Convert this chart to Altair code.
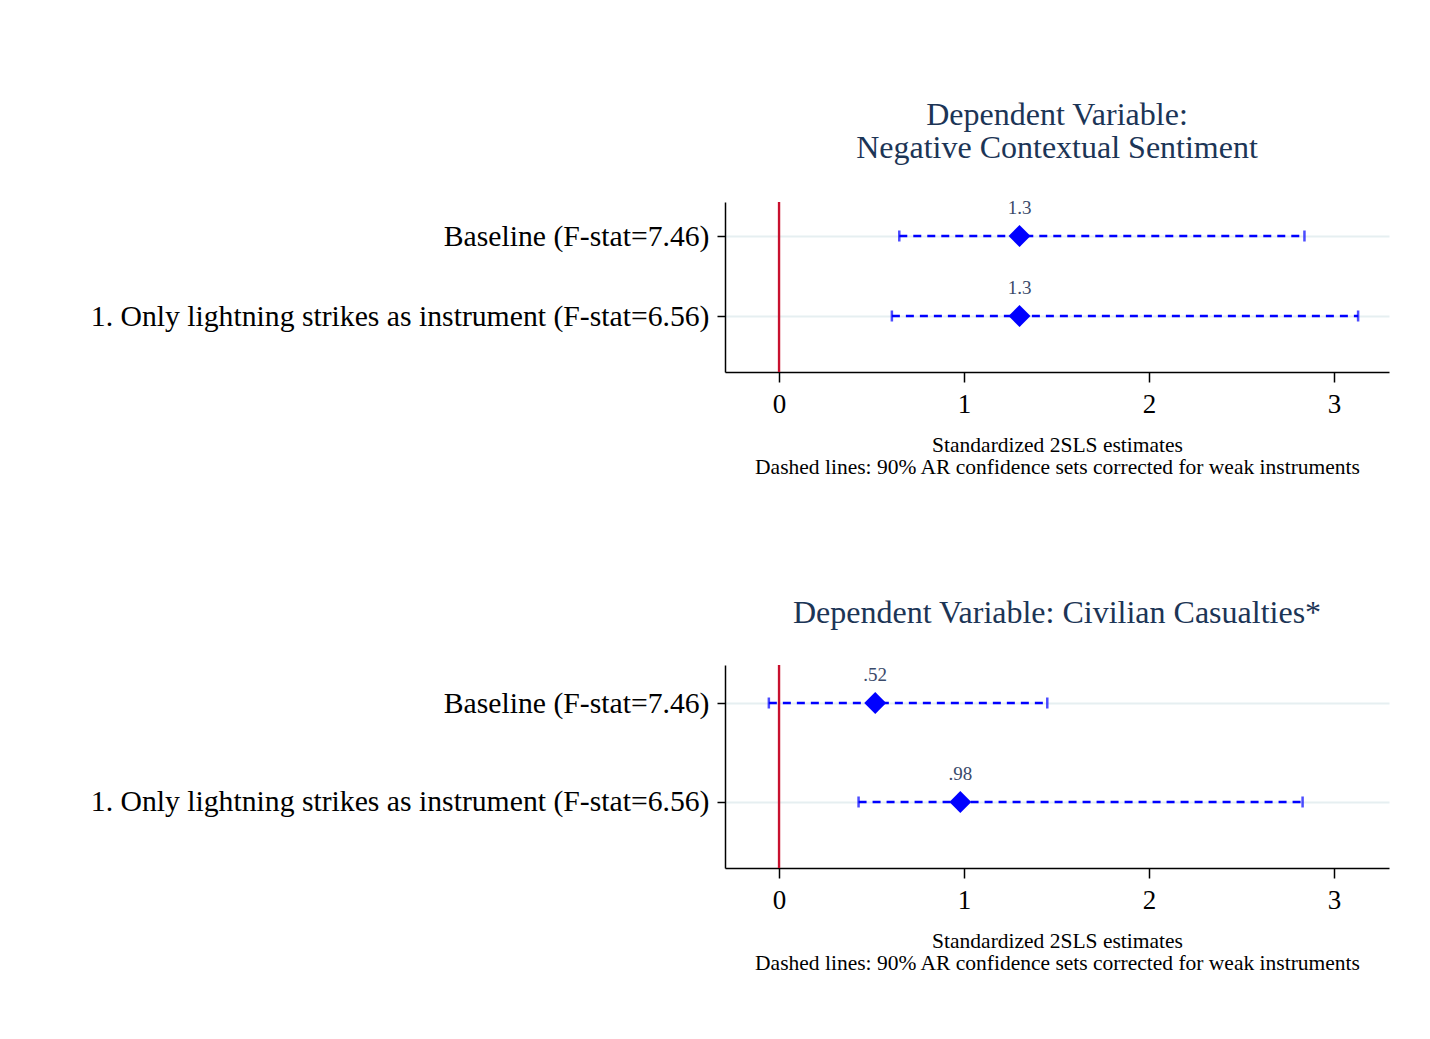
import altair as alt
import pandas as pd

# Specifications shown on the y axis (top to bottom)
specs = [
    "Baseline (F-stat=7.46)",
    "1. Only lightning strikes as instrument (F-stat=6.56)",
]

# Panel 1: negative contextual sentiment
sent_est = [1.3, 1.3]
sent_lo = [0.65, 0.61]
sent_hi = [2.84, 3.13]

# Panel 2: civilian casualties
cas_est = [0.52, 0.98]
cas_lo = [-0.055, 0.43]
cas_hi = [1.45, 2.83]

x_ticks = [0, 1, 2, 3]

SERIF = "Liberation Serif"
BLUE = "#0000ff"


def fmt(v):
    s = f"{v:g}"
    return s[1:] if s.startswith("0.") else s


def panel(title_lines, est, lo, hi, height, ydom):
    df = pd.DataFrame({
        "row": [1, 2],
        "spec": specs,
        "est": est,
        "lo": lo,
        "hi": hi,
        "lab": [fmt(v) for v in est],
    })
    label_expr = f"datum.value == 1 ? '{specs[0]}' : '{specs[1]}'"
    xscale = alt.Scale(domain=[-0.292, 3.297], nice=False, zero=False)
    yscale = alt.Scale(domain=ydom, reverse=True, nice=False, zero=False)
    xaxis = alt.Axis(
        values=x_ticks, format="d", grid=False, tickSize=10, tickWidth=1.5,
        tickColor="black", domainColor="black", domainWidth=1.5,
        labelFontSize=27, labelFont=SERIF, labelColor="black", labelPadding=9,
        labelFlush=False,
        title=["Standardized 2SLS estimates",
               "Dashed lines: 90% AR confidence sets corrected for weak instruments"],
        titleFont=SERIF, titleFontSize=21.5, titleFontWeight="normal",
        titleColor="black", titlePadding=17, titleLineHeight=22,
    )
    yaxis = alt.Axis(
        values=[1, 2], labelExpr=label_expr, grid=True, gridColor="#e6eff1",
        gridWidth=2, tickSize=8, tickWidth=1.5, tickColor="black",
        domainColor="black", domainWidth=1.5, labelFontSize=29.7, labelFont=SERIF,
        labelColor="black", labelPadding=8, title=None, labelLimit=1000,
    )
    base = alt.Chart(df)
    frame = base.mark_point(opacity=0).encode(
        x=alt.X("est:Q", scale=xscale, axis=xaxis),
        y=alt.Y("row:Q", scale=yscale, axis=yaxis),
    )
    zero = base.mark_rule(color="#c8102e", strokeWidth=2.2).encode(
        x=alt.datum(0)
    )
    ci = base.mark_rule(color=BLUE, strokeWidth=2.6, strokeDash=[8, 6]).encode(
        x="lo:Q", x2="hi:Q", y="row:Q"
    )
    cap_lo = base.mark_tick(color=BLUE, orient="vertical", size=11, thickness=2.5).encode(
        x="lo:Q", y="row:Q"
    )
    cap_hi = base.mark_tick(color=BLUE, orient="vertical", size=11, thickness=2.5).encode(
        x="hi:Q", y="row:Q"
    )
    pt = base.mark_point(shape="diamond", filled=True, color=BLUE, size=480, opacity=1).encode(
        x="est:Q", y="row:Q"
    )
    txt = base.mark_text(dy=-28, fontSize=19, font=SERIF, color="#3a4a6a").encode(
        x="est:Q", y="row:Q", text="lab:N"
    )
    return alt.layer(frame, zero, ci, cap_lo, cap_hi, pt, txt).properties(
        width=664,
        height=height,
        title=alt.TitleParams(
            title_lines, font=SERIF, fontSize=32, fontWeight="normal",
            color="#1c3556", frame="group", anchor="middle", offset=34,
            lineHeight=33,
        ),
    )


top = panel(["Dependent Variable:", "Negative Contextual Sentiment"],
            sent_est, sent_lo, sent_hi, 170, [0.575, 2.7])
bottom = panel("Dependent Variable: Civilian Casualties*",
               cas_est, cas_lo, cas_hi, 203, [0.616, 2.667])

chart = alt.vconcat(top, bottom, spacing=118).properties(
    padding={"left": 90, "top": 99, "right": 10, "bottom": 10},
    background="white",
).configure_view(stroke=None)

chart.save("out.html", embed_options={"renderer": "svg", "actions": False})
